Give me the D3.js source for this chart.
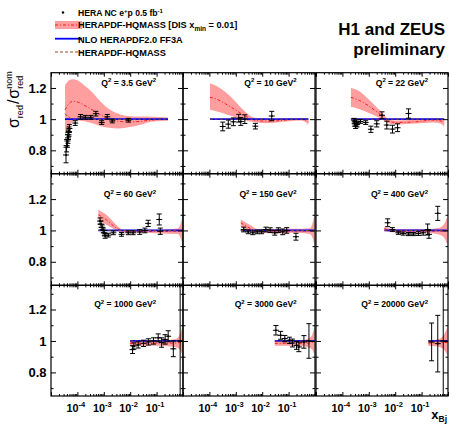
<!DOCTYPE html>
<html><head><meta charset="utf-8">
<script src="https://cdn.jsdelivr.net/npm/d3@7"></script>
<style>body{margin:0;background:#fff}svg{display:block;font-family:"Liberation Sans",Arial,Helvetica,sans-serif;font-weight:bold}</style>
</head><body><svg id="c" width="449" height="425"></svg>
<script>
// ---------------- DATA ----------------
const q2Values = ["3.5", "10", "22", "60", "150", "400", "1000", "3000", "20000"];
const xTickExponents = ["-4", "-3", "-2", "-1"];
const yTickLabels = [0.8, 1, 1.2];
// band rows: [x, lower, upper, central HERAPDF-HQMASS (DIS xmin=0.01), HERAPDF-HQMASS]
const band_3_5 = [
 [3.4e-5,0.898,1.217,1.06,1.035],[4.9e-5,0.94,1.249,1.10,1.01],[6.6e-5,0.983,1.256,1.115,1.0],
 [1.0e-4,0.991,1.249,1.11,1.0],[1.8e-4,0.987,1.217,1.09,0.999],[3.8e-4,0.972,1.17,1.058,0.998],
 [7.8e-4,0.955,1.11,1.026,0.998],[1.6e-3,0.945,1.064,1.0,0.998],[3.4e-3,0.94,1.036,0.987,0.998],
 [6.9e-3,0.945,1.021,0.983,0.998],[1.45e-2,0.955,1.017,0.983,0.999],[3.0e-2,0.968,1.017,0.988,1.0],
 [6.2e-2,0.983,1.015,0.994,1.0],[0.27,0.99,1.01,1.0,1.0]];
const band_10 = [
 [1.05e-4,1.06,1.23,1.14,1.0],[1.9e-4,1.049,1.213,1.128,1.0],[3.4e-4,1.038,1.183,1.106,1.0],
 [6.0e-4,1.023,1.149,1.081,1.0],[1.07e-3,1.009,1.106,1.055,1.0],[1.9e-3,0.996,1.06,1.028,1.0],
 [3.5e-3,0.985,1.021,1.004,1.0],[6.2e-3,0.979,1.004,0.991,1.0],[1.5e-2,0.974,1.0,0.987,1.0],
 [3.5e-2,0.979,1.0,0.989,1.0],[0.11,0.987,1.002,0.996,1.0],[0.27,0.991,1.004,1.0,1.0],
 [0.45,0.98,1.005,0.993,1.0],[0.56,0.962,1.005,0.985,1.0]];
const band_22 = [
 [2.1e-4,1.079,1.2,1.14,1.0],[4.4e-4,1.064,1.179,1.12,1.0],[9.1e-4,1.043,1.132,1.089,1.0],
 [1.9e-3,1.019,1.079,1.05,1.0],[3.4e-3,0.994,1.036,1.015,1.0],[5.1e-3,0.975,1.004,0.99,1.0],
 [1.07e-2,0.966,0.991,0.979,1.0],[6.2e-2,0.972,0.996,0.983,1.0],[0.26,0.979,1.004,0.994,1.0],
 [0.55,0.97,1.002,0.988,1.0],[0.72,0.951,1.0,0.98,1.0]];
const band_60 = [
 [6.2e-4,1.066,1.13,1.10,1.0],[1.29e-3,1.034,1.098,1.066,1.0],[2.6e-3,1.006,1.045,1.023,1.0],
 [5.5e-3,0.985,1.006,0.996,1.0],[2.3e-2,0.985,1.004,0.994,1.0],[0.135,0.98,1.006,0.994,1.0],
 [0.63,0.978,1.012,0.995,1.0],[0.8,0.955,1.04,0.996,1.0],[0.955,0.91,1.085,0.996,1.0]];
const band_150 = [
 [1.55e-3,1.023,1.07,1.049,1.0],[3.5e-3,0.995,1.034,1.013,1.0],[7.1e-3,0.988,1.006,0.996,1.0],
 [3.5e-2,0.98,1.01,0.995,1.0],[0.2,0.985,1.01,0.996,1.0],[0.63,0.978,1.014,0.996,1.0],
 [0.8,0.955,1.045,0.996,1.0],[0.955,0.906,1.1,0.996,1.0]];
const band_400 = [
 [3.9e-3,0.996,1.023,1.011,1.0],[7.4e-3,0.988,1.009,0.998,1.0],[3.2e-2,0.985,1.009,0.996,1.0],
 [0.16,0.985,1.009,0.996,1.0],[0.42,0.975,1.015,0.996,1.0],[0.7,0.955,1.04,0.996,1.0],
 [0.955,0.906,1.09,0.996,1.0]];
const band_1000 = [
 [9.8e-3,0.97,1.0,0.985,1.0],[0.1,0.97,1.002,0.986,1.0],[0.5,0.962,1.012,0.987,1.0],
 [0.75,0.945,1.04,0.99,1.0],[0.955,0.906,1.09,0.99,1.0]];
const band_3000 = [
 [3.0e-2,0.97,1.0,0.985,1.0],[0.25,0.968,1.002,0.985,1.0],[0.55,0.96,1.015,0.987,1.0],
 [0.78,0.945,1.04,0.99,1.0],[0.955,0.906,1.09,0.99,1.0]];
const band_20000 = [
 [0.18,0.97,1.005,0.987,1.0],[0.4,0.965,1.01,0.987,1.0],[0.7,0.945,1.04,0.99,1.0],
 [0.955,0.906,1.09,0.99,1.0]];
// data rows: [x, sigma_red/sigma_red^nom, total error]
const data_3_5 = [
 [3.7e-5,0.77,0.05],[3.9e-5,0.83,0.04],[4.2e-5,0.86,0.04],[4.4e-5,0.88,0.035],[4.6e-5,0.90,0.03],
 [4.8e-5,0.92,0.03],[5.0e-5,0.94,0.025],[8.3e-5,0.975,0.015],[1.32e-4,1.015,0.015],[2.0e-4,1.012,0.012],
 [3.2e-4,1.012,0.012],[5.0e-4,1.035,0.015],[8.3e-4,0.978,0.012],[1.35e-3,1.015,0.015],[2.1e-3,0.988,0.012],
 [8.5e-3,0.993,0.012]];
const data_10 = [
 [3.2e-4,0.953,0.028],[5.2e-4,0.968,0.026],[8.1e-4,0.983,0.025],[1.29e-3,1.006,0.025],[1.55e-3,0.985,0.025],
 [2.2e-3,1.0,0.028],[5.5e-3,0.955,0.018],[2.3e-2,1.02,0.03]];
const data_22 = [
 [2.8e-4,0.99,0.015],[2.95e-4,0.97,0.015],[3.16e-4,0.955,0.015],[3.4e-4,0.98,0.015],[3.6e-4,0.965,0.015],
 [4.8e-4,0.985,0.012],[7.6e-4,0.978,0.012],[1.2e-3,0.935,0.02],[2.0e-3,0.97,0.02],[3.16e-3,1.025,0.022],
 [4.8e-3,0.962,0.025],[7.9e-3,0.936,0.025],[1.23e-2,0.945,0.025],[3.2e-2,1.036,0.03]];
const data_60 = [
 [7.2e-4,1.06,0.02],[7.9e-4,1.04,0.02],[8.7e-4,1.02,0.015],[9.5e-4,1.0,0.015],[1.05e-3,0.985,0.015],
 [1.12e-3,0.965,0.015],[1.48e-3,0.97,0.012],[2.3e-3,0.985,0.012],[4.7e-3,0.975,0.012],[8.5e-3,0.985,0.012],
 [1.29e-2,0.985,0.012],[2.3e-2,0.99,0.015],[3.6e-2,1.0,0.015],[4.8e-2,1.045,0.02],[0.126,1.07,0.035],
 [0.138,0.995,0.02]];
const data_150 = [
 [2.0e-3,1.006,0.015],[2.95e-3,0.991,0.012],[4.4e-3,0.985,0.012],[6.5e-3,0.991,0.012],[9.5e-3,0.991,0.012],
 [1.38e-2,1.006,0.015],[2.0e-2,1.002,0.015],[3.0e-2,0.985,0.015],[4.1e-2,1.002,0.015],[6.0e-2,0.991,0.018],
 [8.5e-2,1.0,0.018],[0.19,0.96,0.022]];
const data_400 = [
 [5.2e-3,1.049,0.025],[7.8e-3,1.006,0.012],[1.32e-2,0.985,0.01],[2.0e-2,0.98,0.01],[3.2e-2,0.977,0.01],
 [4.9e-2,0.977,0.01],[7.6e-2,0.98,0.012],[0.115,0.985,0.015],[0.17,1.006,0.035],[0.19,0.975,0.025],
 [0.41,1.109,0.045]];
const data_1000 = [
 [1.23e-2,0.945,0.025],[1.38e-2,0.968,0.02],[2.0e-2,0.975,0.02],[3.2e-2,0.985,0.02],[4.9e-2,0.994,0.02],
 [7.6e-2,1.0,0.02],[0.115,1.02,0.025],[0.155,0.99,0.03],[0.21,1.01,0.03],[0.275,1.03,0.035],
 [0.43,0.95,0.05],[0.78,1.0,0.4]];
const data_3000 = [
 [3.3e-2,1.068,0.03],[5.0e-2,1.036,0.025],[7.2e-2,1.015,0.02],[0.107,1.004,0.02],[0.14,0.987,0.025],
 [0.2,0.972,0.025],[0.245,0.962,0.03],[0.38,0.994,0.04],[0.59,1.0,0.11]];
const data_20000 = [[0.24,0.994,0.12],[0.41,0.983,0.18],[0.66,1.0,0.4]];

// ---------------- LAYOUT ----------------
const bands = [band_3_5, band_10, band_22, band_60, band_150, band_400, band_1000, band_3000, band_20000];
const datas = [data_3_5, data_10, data_22, data_60, data_150, data_400, data_1000, data_3000, data_20000];
const colLeft = [51, 183, 316], panelW = 132;
const rowTop = [72.7, 173.7, 285.3], rowBot = [173.7, 285.3, 396];
const yTopVal = [1.298, 1.362, 1.354];
const labelRight = [105, 113.5, 112];

const svg = d3.select("#c");
const defs = svg.append("defs");
const decades = [1e-5, 1e-4, 1e-3, 1e-2, 1e-1, 1];
const minors = [];
decades.slice(0, -1).forEach(d => { for (let k = 2; k <= 9; k++) minors.push(d * k); });

const BAND = "#ff9e9e", RED = "#ff1a1a", BLUE = "#0000ff", BROWN = "#8b4a2b";

q2Values.forEach((q, i) => {
  const r = Math.floor(i / 3), c = i % 3;
  const x = d3.scaleLog().domain([1e-5, 1]).range([colLeft[c], colLeft[c] + panelW]);
  const y = d3.scaleLinear().domain([0.65, yTopVal[r]]).range([rowBot[r], rowTop[r]]);
  defs.append("clipPath").attr("id", "cp" + i).append("rect")
    .attr("x", colLeft[c]).attr("y", rowTop[r]).attr("width", panelW).attr("height", rowBot[r] - rowTop[r]);
  const g = svg.append("g");
  const pg = g.append("g").attr("clip-path", `url(#cp${i})`);
  const band = bands[i];
  pg.append("path").datum(band)
    .attr("d", d3.area().x(d => x(d[0])).y0(d => y(d[1])).y1(d => y(d[2])).curve(d3.curveMonotoneX))
    .attr("fill", BAND);
  pg.append("path").datum(band)
    .attr("d", d3.line().x(d => x(d[0])).y(d => y(d[3])).curve(d3.curveMonotoneX))
    .attr("fill", "none").attr("stroke", RED).attr("stroke-width", 1).attr("stroke-dasharray", "3,2,1,2");
  pg.append("path").datum(band)
    .attr("d", d3.line().x(d => x(d[0])).y(() => y(1)))
    .attr("fill", "none").attr("stroke", BLUE).attr("stroke-width", 1.8);
  pg.append("path").datum(band)
    .attr("d", d3.line().x(d => x(d[0])).y(d => y(d[4])).curve(d3.curveMonotoneX))
    .attr("fill", "none").attr("stroke", BROWN).attr("stroke-width", 1).attr("stroke-dasharray", "3,2");

  // data points
  const pts = pg.append("g").attr("stroke", "#000").attr("stroke-width", 1);
  datas[i].forEach(d => {
    const px = x(d[0]), py = y(d[1]), y0 = y(d[1] - d[2]), y1 = y(d[1] + d[2]);
    pts.append("line").attr("x1", px).attr("x2", px).attr("y1", y0).attr("y2", y1);
    pts.append("line").attr("x1", px - 2.5).attr("x2", px + 2.5).attr("y1", y0).attr("y2", y0);
    pts.append("line").attr("x1", px - 2.5).attr("x2", px + 2.5).attr("y1", y1).attr("y2", y1);
    pts.append("line").attr("x1", px - 3).attr("x2", px + 3).attr("y1", py).attr("y2", py);
    pts.append("circle").attr("cx", px).attr("cy", py).attr("r", 1).attr("fill", "#000").attr("stroke", "none");
  });

  // axes with inward ticks
  const ax = g.append("g");
  const mk = (axis, tx, ty) => {
    const a = ax.append("g").attr("transform", `translate(${tx},${ty})`).call(axis);
    a.select(".domain").remove();
    a.selectAll("line").attr("stroke-width", 1);
  };
  mk(d3.axisBottom(x).tickValues(decades).tickSize(-4).tickSizeOuter(0).tickFormat(""), 0, rowBot[r]);
  mk(d3.axisBottom(x).tickValues(minors).tickSize(-2).tickSizeOuter(0).tickFormat(""), 0, rowBot[r]);
  mk(d3.axisTop(x).tickValues(decades).tickSize(-4).tickSizeOuter(0).tickFormat(""), 0, rowTop[r]);
  mk(d3.axisTop(x).tickValues(minors).tickSize(-2).tickSizeOuter(0).tickFormat(""), 0, rowTop[r]);
  const yMaj = [0.8, 1.0, 1.2], yMin = [0.7, 0.9, 1.1, 1.3].filter(v => v < yTopVal[r]);
  mk(d3.axisLeft(y).tickValues(yMaj).tickSize(-5).tickSizeOuter(0).tickFormat(""), colLeft[c], 0);
  mk(d3.axisLeft(y).tickValues(yMin).tickSize(-2.5).tickSizeOuter(0).tickFormat(""), colLeft[c], 0);
  mk(d3.axisRight(y).tickValues(yMaj).tickSize(-5).tickSizeOuter(0).tickFormat(""), colLeft[c] + panelW, 0);
  mk(d3.axisRight(y).tickValues(yMin).tickSize(-2.5).tickSizeOuter(0).tickFormat(""), colLeft[c] + panelW, 0);
  g.append("rect").attr("x", colLeft[c]).attr("y", rowTop[r]).attr("width", panelW)
    .attr("height", rowBot[r] - rowTop[r]).attr("fill", "none").attr("stroke", "#000").attr("stroke-width", 1.2);

  // Q2 label
  const t = g.append("text").attr("x", colLeft[c] + labelRight[c]).attr("y", y(1.213))
    .attr("text-anchor", "end").attr("font-size", 8.6);
  t.append("tspan").text("Q");
  t.append("tspan").attr("font-size", 6).attr("dy", -3.5).text("2");
  t.append("tspan").attr("dy", 3.5).text(" = " + q + " GeV");
  t.append("tspan").attr("font-size", 6).attr("dy", -3.5).text("2");

  // y tick labels for first column
  if (c === 0) {
    yTickLabels.forEach(v => {
      g.append("text").attr("x", 46.5).attr("y", y(v)).attr("dy", "0.36em").attr("text-anchor", "end")
        .attr("font-size", 13).text(v);
    });
  }
  // x tick labels for bottom row
  if (r === 2) {
    xTickExponents.forEach(e => {
      const tt = g.append("text").attr("x", x(Math.pow(10, +e)) - 1.5).attr("y", 411.5)
        .attr("text-anchor", "middle").attr("font-size", 10.8);
      tt.append("tspan").text("10");
      tt.append("tspan").attr("font-size", 7.5).attr("dy", -5).text(e);
    });
  }
});

// axis titles
const xt = svg.append("text").attr("x", 447).attr("y", 419).attr("text-anchor", "end").attr("font-size", 13);
xt.append("tspan").text("x");
xt.append("tspan").attr("font-size", 8.5).attr("dy", 3).text("Bj");

const yg = svg.append("g").attr("transform", "translate(19,128) rotate(-90)").attr("font-weight", "normal");
let cx = 0;
const addT = (txt, size, dy, advance = true) => {
  const el = yg.append("text").attr("x", cx).attr("y", dy).attr("font-size", size).text(txt);
  const w = el.node().getComputedTextLength();
  if (advance) cx += w;
  return w;
};
addT("σ", 16, 0);
addT("red", 9, 3.5);
cx += 1;
addT("/", 16, 0);
cx += 1;
addT("σ", 16, 0);
const wr = addT("red", 9, 3.5, false);
const wn = addT("nom", 9, -7, false);
cx += Math.max(wr, wn);

// legend
const lg = svg.append("g").attr("font-size", 9.2);
lg.append("circle").attr("cx", 63).attr("cy", 12.5).attr("r", 1.2).attr("fill", "#000");
const l1 = lg.append("text").attr("x", 78).attr("y", 16).attr("font-size", 8.6);
l1.append("tspan").text("HERA NC e");
l1.append("tspan").attr("font-size", 6).attr("dy", -3.5).text("+");
l1.append("tspan").attr("dy", 3.5).text("p 0.5 fb");
l1.append("tspan").attr("font-size", 6).attr("dy", -3.5).text("-1");
lg.append("rect").attr("x", 55).attr("y", 21).attr("width", 27).attr("height", 8).attr("fill", BAND);
lg.append("line").attr("x1", 55).attr("x2", 82).attr("y1", 25).attr("y2", 25)
  .attr("stroke", RED).attr("stroke-width", 1).attr("stroke-dasharray", "3,2,1,2");
const l2 = lg.append("text").attr("x", 78).attr("y", 27.5);
l2.append("tspan").text("HERAPDF-HQMASS [DIS x");
l2.append("tspan").attr("font-size", 6.5).attr("dy", 3.5).text("min");
l2.append("tspan").attr("dy", -3.5).text(" = 0.01]");
lg.append("line").attr("x1", 55).attr("x2", 82).attr("y1", 38.7).attr("y2", 38.7)
  .attr("stroke", BLUE).attr("stroke-width", 1.8);
lg.append("text").attr("x", 78).attr("y", 42.5).text("NLO HERAPDF2.0 FF3A");
lg.append("line").attr("x1", 55).attr("x2", 82).attr("y1", 52).attr("y2", 52)
  .attr("stroke", BROWN).attr("stroke-width", 1).attr("stroke-dasharray", "3,2");
lg.append("text").attr("x", 78).attr("y", 56).text("HERAPDF-HQMASS");

// title
svg.append("text").attr("x", 445).attr("y", 35).attr("text-anchor", "end").attr("font-size", 17).text("H1 and ZEUS");
svg.append("text").attr("x", 445).attr("y", 54.5).attr("text-anchor", "end").attr("font-size", 17).text("preliminary");
</script></body></html>
